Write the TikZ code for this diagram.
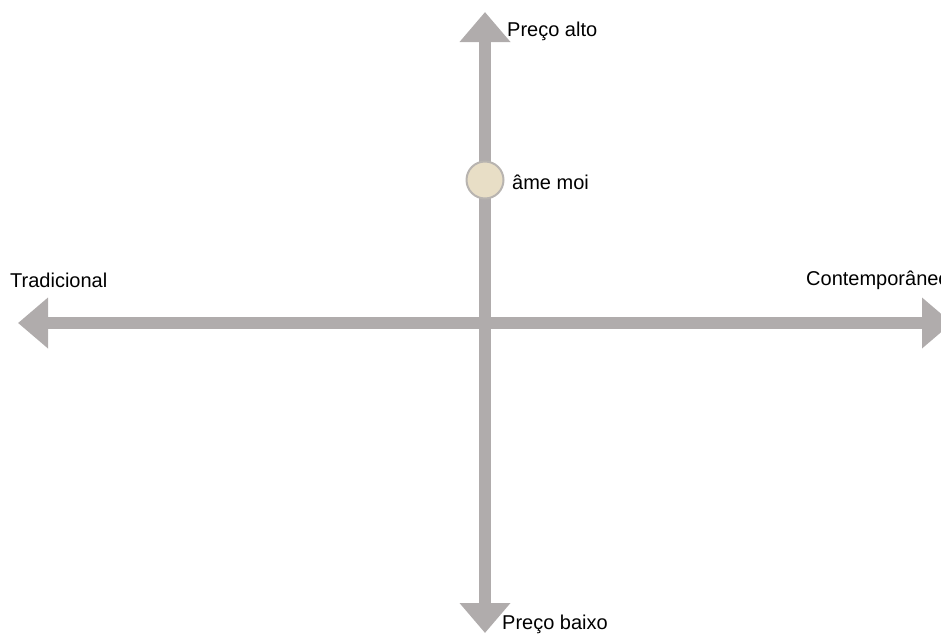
\documentclass[tikz,border=0pt]{standalone}
\usepackage{fontspec}
\setmainfont{Liberation Sans}
\usetikzlibrary{arrows.meta}
\definecolor{axisgray}{RGB}{176,172,172}
\definecolor{dotfill}{RGB}{232,222,198}
\definecolor{dotline}{RGB}{184,180,176}
\tikzset{
  axisline/.style={draw=axisgray, line width=12pt, {Triangle[length=30pt 0 0,width=49pt 0 0]}-{Triangle[length=30pt 0 0,width=49pt 0 0]}},
  lbl/.style={anchor=west, inner sep=0pt, font=\fontsize{20}{23}\selectfont, text=black},
  dot/.style={circle, draw=dotline, line width=2pt, fill=dotfill, minimum size=37pt, inner sep=0pt}
}
\begin{document}
\begin{tikzpicture}[x=1pt,y=-1pt]
\useasboundingbox (0,0) rectangle (941,635);
\clip (0,0) rectangle (941,635);
\coordinate (top) at (485,12);
\coordinate (bot) at (485,633);
\coordinate (left) at (18,323);
\coordinate (right) at (952,323);
\draw[axisline] (left) -- (right);
\draw[axisline] (bot) -- (top);
\node[dot] (ame) at (485,180) {};
\node[lbl] (palto) at (507,31) {Preço alto};
\node[lbl] (amel) at (512,182) {âme moi};
\node[lbl] (trad) at (10,280) {Tradicional};
\node[lbl] (cont) at (806,280) {Contemporâneo};
\node[lbl] (pbaixo) at (502,624) {Preço baixo};
\end{tikzpicture}
\end{document}
